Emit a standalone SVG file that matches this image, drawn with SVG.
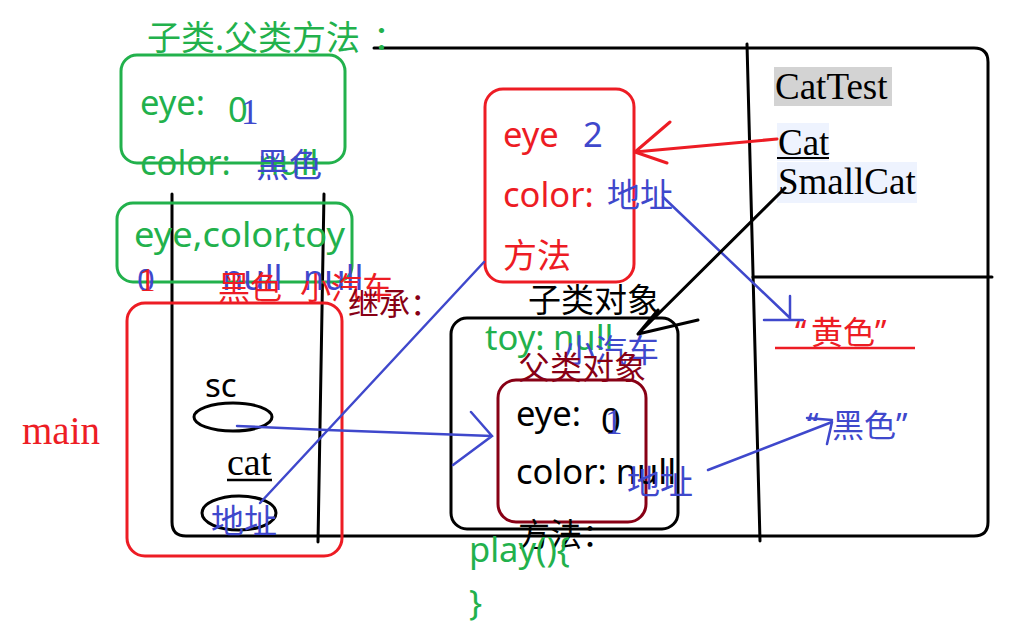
<svg xmlns="http://www.w3.org/2000/svg" width="1015" height="626" viewBox="0 0 1015 626">
<style>
.s{font-family:"Noto Sans","Noto Sans CJK SC",sans-serif;font-size:33px}
.t{font-size:34.5px}
.f{font-family:"Liberation Serif",serif;font-size:37px}
.g{fill:#22b14c}.r{fill:#ed1c24}.b{fill:#3f48cc}.k{fill:#000}.d{fill:#880015}
.ln{fill:none;stroke-width:3;stroke-linecap:round;stroke-linejoin:round}
.bl{fill:none;stroke:#3f48cc;stroke-width:2.5;stroke-linecap:round}
</style>
<rect width="1015" height="626" fill="#fff"/>
<g id="frame" class="ln" stroke="#000">
<path d="M374,48 H974 Q988,48 988,62 V522 Q988,536 974,536 H186 Q172,536 172,522 V194"/>
<path d="M324,194 L318,542"/>
<path d="M747,44 L760,541"/>
<path d="M753,277 H992"/>
</g>
<g id="title"><text class="s g" x="147" y="50" style="font-size:34px">子类.<tspan x="224">父类方法</tspan><tspan x="373">：</tspan></text></g>
<g id="parent-class">
<rect class="ln" stroke="#22b14c" x="121" y="55" width="224" height="108" rx="16"/>
<text class="s t g" x="140" y="115">eye:</text>
<text class="s t g" x="228" y="122">0</text>
<text class="f b" x="241" y="124" style="font-size:35px">1</text>
<text class="s t g" x="140" y="175">color:</text>
<text class="s t g" x="258" y="175">null</text>
<text class="s b" x="256" y="177">黑色</text>
</g>
<g id="fields">
<rect class="ln" stroke="#22b14c" x="117" y="203" width="235" height="79" rx="16"/>
<text class="s g" x="134" y="247" style="font-size:35px" textLength="211" lengthAdjust="spacingAndGlyphs">eye,color,toy</text>
<text class="s b" x="137" y="291" style="font-size:31px">0</text>
<text class="f r" x="139" y="291" style="font-size:33px">1</text>
<text class="s t b" x="222" y="290">null</text>
<text class="s t b" x="303" y="290">null</text>
<text class="s r" x="218" y="299" style="font-size:32px">黑色</text>
<text class="s r" x="300" y="299" style="font-size:31px">小汽车</text>
</g>
<g id="inherit"><text class="s d" x="348" y="315" style="font-size:31px">继承：</text></g>
<g id="main">
<rect class="ln" stroke="#ed1c24" x="127" y="303" width="215" height="253" rx="18"/>
<text class="f r" x="22" y="444" style="font-size:39px">main</text>
<text class="s k" x="205" y="397">sc</text>
<ellipse class="ln" stroke="#000" cx="233" cy="417" rx="39" ry="14"/>
<text class="f k" x="227" y="475" style="font-size:38px">cat</text>
<path d="M227,480 H272" stroke="#000" stroke-width="2.5"/>
<ellipse class="ln" stroke="#000" cx="239" cy="513" rx="37" ry="17"/>
<text class="s b" x="211" y="533">地址</text>
</g>
<g id="cat-class">
<rect class="ln" stroke="#ed1c24" x="485" y="89" width="149" height="193" rx="18"/>
<text class="s t r" x="503" y="147">eye</text>
<text class="s t b" x="583" y="147">2</text>
<text class="s t r" x="503" y="207">color:</text>
<text class="s b" x="607" y="207">地址</text>
<text class="s r" x="503" y="268" style="font-size:34px">方法</text>
</g>
<g id="cattest">
<rect x="774" y="67" width="118" height="39" fill="#d3d3d3"/>
<text class="f k" x="775" y="99">CatTest</text>
<rect x="777" y="123" width="52" height="38" fill="#eef3fe"/>
<rect x="777" y="162" width="140" height="41" fill="#eef3fe"/>
<text class="f k" x="778" y="155">Cat</text>
<path d="M777,158 H829" stroke="#000" stroke-width="2"/>
<text class="f k" x="778" y="194">SmallCat</text>
</g>
<g id="yellow">
<text class="s r" x="795" y="344" style="font-size:32px">“<tspan x="811">黄色”</tspan></text>
<path d="M775,348 H915" stroke="#ed1c24" stroke-width="2.5"/>
</g>
<g id="black">
<text class="s b" x="807" y="437" style="font-size:32px">“<tspan x="832">黑色”</tspan></text>
</g>
<g id="subclass-object">
<rect class="ln" stroke="#000" x="451" y="318" width="227" height="211" rx="16"/>
<text class="s k" x="528" y="312">子类对象</text>
<text class="s t g" x="485" y="350">toy:</text>
<text class="s t g" x="553" y="350">null</text>
<text class="s b" x="563" y="362" style="font-size:32px">小汽车</text>
<text class="s d" x="518" y="379" style="font-size:32px">父类对象</text>
</g>
<g id="parent-object">
<rect class="ln" stroke="#880015" x="498" y="380" width="148" height="142" rx="18"/>
<text class="s t k" x="516" y="426">eye:</text>
<text class="s t k" x="601" y="433">0</text>
<text class="f b" x="605" y="434" style="font-size:35px">1</text>
<text class="s t k" x="516" y="484">color: null</text>
<text class="s b" x="627" y="494">地址</text>
</g>
<g id="methods">
<text class="s k" x="518" y="546" style="font-size:32px">方法：</text>
<text class="s t g" x="469" y="562">play(){</text>
<text class="s t g" x="469" y="615">}</text>
</g>
<g id="connectors">
<path class="bl" d="M237,426 L327,430 L492,436 M471,412 L492,436 L453,465"/>
<path class="bl" d="M260,503 L484,262"/>
<path class="bl" d="M663,197 L790,318 M790,296 V320 M764,320 H803"/>
<path class="bl" d="M708,470 L832,422 M807,418 L832,420 M832,422 L827,444"/>
<path class="ln" stroke="#ed1c24" d="M777,139 L635,152 M670,122 L635,152 L667,163"/>
<path class="ln" stroke="#000" stroke-width="2.5" d="M785,188 L638,334 M658,310 L638,334 L698,320"/>
</g>
</svg>
